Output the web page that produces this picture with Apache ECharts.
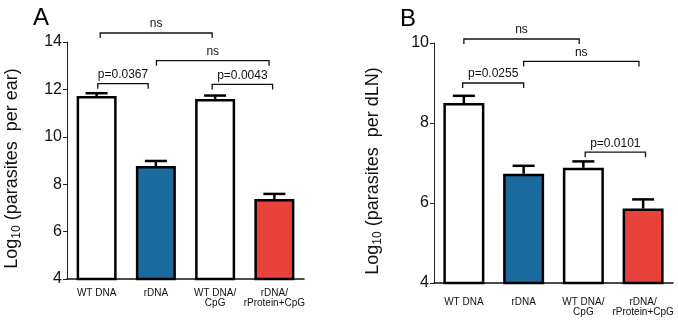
<!DOCTYPE html>
<html>
<head>
<meta charset="utf-8">
<script src="https://cdn.jsdelivr.net/npm/echarts@6/dist/echarts.min.js"></script>
<style>
  html, body { margin: 0; padding: 0; background: #fff; }
  #chart { width: 678px; height: 325px; }
</style>
</head>
<body>
<div id="chart"></div>
<script>
// Data
const groups = ['WT DNA', 'rDNA', 'WT DNA/\nCpG', 'rDNA/\nrProtein+CpG'];
const barColors = ['#ffffff', '#1a6a9e', '#ffffff', '#e8423c'];

const earMean = [11.72, 8.77, 11.6, 7.38];
const earUpper = [11.84, 8.98, 11.74, 7.59];
const lnMean = [8.5, 6.73, 6.88, 5.86];
const lnUpper = [8.68, 6.93, 7.04, 6.09];

// brackets: from / to (group position), height, label
const earBrFrom = [0.06, 1.01, 0.02, 1.95];
const earBrTo = [1.95, 2.91, 0.87, 2.97];
const earBrY = [14.38, 13.21, 12.24, 12.21];
const earBrText = ['ns', 'ns', 'p=0.0367', 'p=0.0043'];

const lnBrFrom = [0.0, 1.0, -0.02, 2.03];
const lnBrTo = [1.93, 2.93, 1.0, 3.04];
const lnBrY = [10.1, 9.54, 9.0, 7.27];
const lnBrText = ['ns', 'ns', 'p=0.0255', 'p=0.0101'];

const font = "'Liberation Sans', Arial, sans-serif";

const chart = echarts.init(document.getElementById('chart'));

function errorRender(params, api) {
    const base = api.coord([api.value(0), api.value(1)]);
    const top = api.coord([api.value(0), api.value(2)]);
    const style = { stroke: '#000', lineWidth: 2.5 };
    return {
        type: 'group',
        children: [
            { type: 'line', shape: { x1: base[0], y1: base[1], x2: top[0], y2: top[1] }, style: style },
            { type: 'line', shape: { x1: top[0] - 11, y1: top[1], x2: top[0] + 11, y2: top[1] }, style: style }
        ]
    };
}

function bracketRender(params, api) {
    const a = api.coord([api.value(0), api.value(2)]);
    const b = api.coord([api.value(1), api.value(2)]);
    const drop = 5;
    return {
        type: 'group',
        children: [
            {
                type: 'polyline',
                shape: { points: [[a[0], a[1] + drop], [a[0], a[1]], [b[0], b[1]], [b[0], b[1] + drop]] },
                style: { stroke: '#111', lineWidth: 1.3, fill: null }
            },
            {
                type: 'text',
                x: (a[0] + b[0]) / 2,
                y: a[1] - 3,
                style: {
                    text: api.value(3),
                    fontSize: 12, fontFamily: font, fill: '#111',
                    align: 'center', verticalAlign: 'bottom'
                }
            }
        ]
    };
}

function bracketData(from, to, y, txt) {
    return from.map((f, i) => [f, to[i], y[i], txt[i]]);
}

function barData(vals) {
    return vals.map((v, i) => ({
        value: v,
        itemStyle: { color: barColors[i] }
    }));
}

function catAxis(grid, margin) {
    return {
        type: 'category',
        gridIndex: grid,
        data: groups,
        axisLine: { lineStyle: { color: '#111', width: 1.5 } },
        axisTick: { alignWithLabel: true, length: 3, lineStyle: { color: '#111' } },
        axisLabel: { interval: 0, fontSize: 10, lineHeight: 10, color: '#111', fontFamily: font, margin: margin }
    };
}

function valAxis(grid, min, max, name, gap) {
    return {
        type: 'value',
        gridIndex: grid,
        min: min,
        max: max,
        interval: 2,
        splitLine: { show: false },
        axisLine: { show: true, onZero: false, lineStyle: { color: '#222', width: 1 } },
        axisTick: { show: true, length: 4, lineStyle: { color: '#222' } },
        axisLabel: { fontSize: 16, color: '#111', fontFamily: font, margin: 5 },
        name: name,
        nameLocation: 'middle',
        nameGap: gap,
        nameRotate: 90,
        nameTextStyle: {
            fontFamily: font,
            color: '#111',
            padding: [0, 16, 0, 0],
            rich: {
                a: { fontSize: 18, fontFamily: font, color: '#111', lineHeight: 22 },
                s: { fontSize: 12, fontFamily: font, color: '#111', lineHeight: 22, verticalAlign: 'bottom', padding: [8, 0, 0, 0] }
            }
        }
    };
}

const option = {
    animation: false,
    backgroundColor: '#fff',
    title: [
        { text: 'A', left: 28, top: 1, textStyle: { fontSize: 24, fontWeight: 'normal', color: '#000', fontFamily: font } },
        { text: 'B', left: 395, top: 2, textStyle: { fontSize: 24, fontWeight: 'normal', color: '#000', fontFamily: font } }
    ],
    grid: [
        { left: 67, top: 42, width: 237, height: 237 },
        { left: 434, top: 43, width: 239, height: 240 }
    ],
    xAxis: [
        catAxis(0, 9),
        catAxis(1, 14),
        { type: 'value', gridIndex: 0, min: -0.5, max: 3.5, show: false },
        { type: 'value', gridIndex: 1, min: -0.5, max: 3.5, show: false }
    ],
    yAxis: [
        valAxis(0, 4, 14, '{a|Log}{s|10}{a| (parasites  per ear)}', 44),
        valAxis(1, 4, 10, '{a|Log}{s|10}{a| (parasites  per dLN)}', 50)
    ],
    series: [
        {
            type: 'bar', xAxisIndex: 0, yAxisIndex: 0, barWidth: 40,
            itemStyle: { borderColor: '#000', borderWidth: 2.5 },
            data: barData(earMean), z: 2
        },
        {
            type: 'bar', xAxisIndex: 1, yAxisIndex: 1, barWidth: 41,
            itemStyle: { borderColor: '#000', borderWidth: 2.5 },
            data: barData(lnMean), z: 2
        },
        {
            type: 'custom', xAxisIndex: 0, yAxisIndex: 0, renderItem: errorRender, z: 3,
            data: earMean.map((m, i) => [i, m, earUpper[i]])
        },
        {
            type: 'custom', xAxisIndex: 1, yAxisIndex: 1, renderItem: errorRender, z: 3,
            data: lnMean.map((m, i) => [i, m, lnUpper[i]])
        },
        {
            type: 'custom', xAxisIndex: 2, yAxisIndex: 0, renderItem: bracketRender, z: 4, clip: false,
            encode: { x: [0, 1], y: 2 },
            data: bracketData(earBrFrom, earBrTo, earBrY, earBrText)
        },
        {
            type: 'custom', xAxisIndex: 3, yAxisIndex: 1, renderItem: bracketRender, z: 4, clip: false,
            encode: { x: [0, 1], y: 2 },
            data: bracketData(lnBrFrom, lnBrTo, lnBrY, lnBrText)
        }
    ]
};

chart.setOption(option);
</script>
</body>
</html>
